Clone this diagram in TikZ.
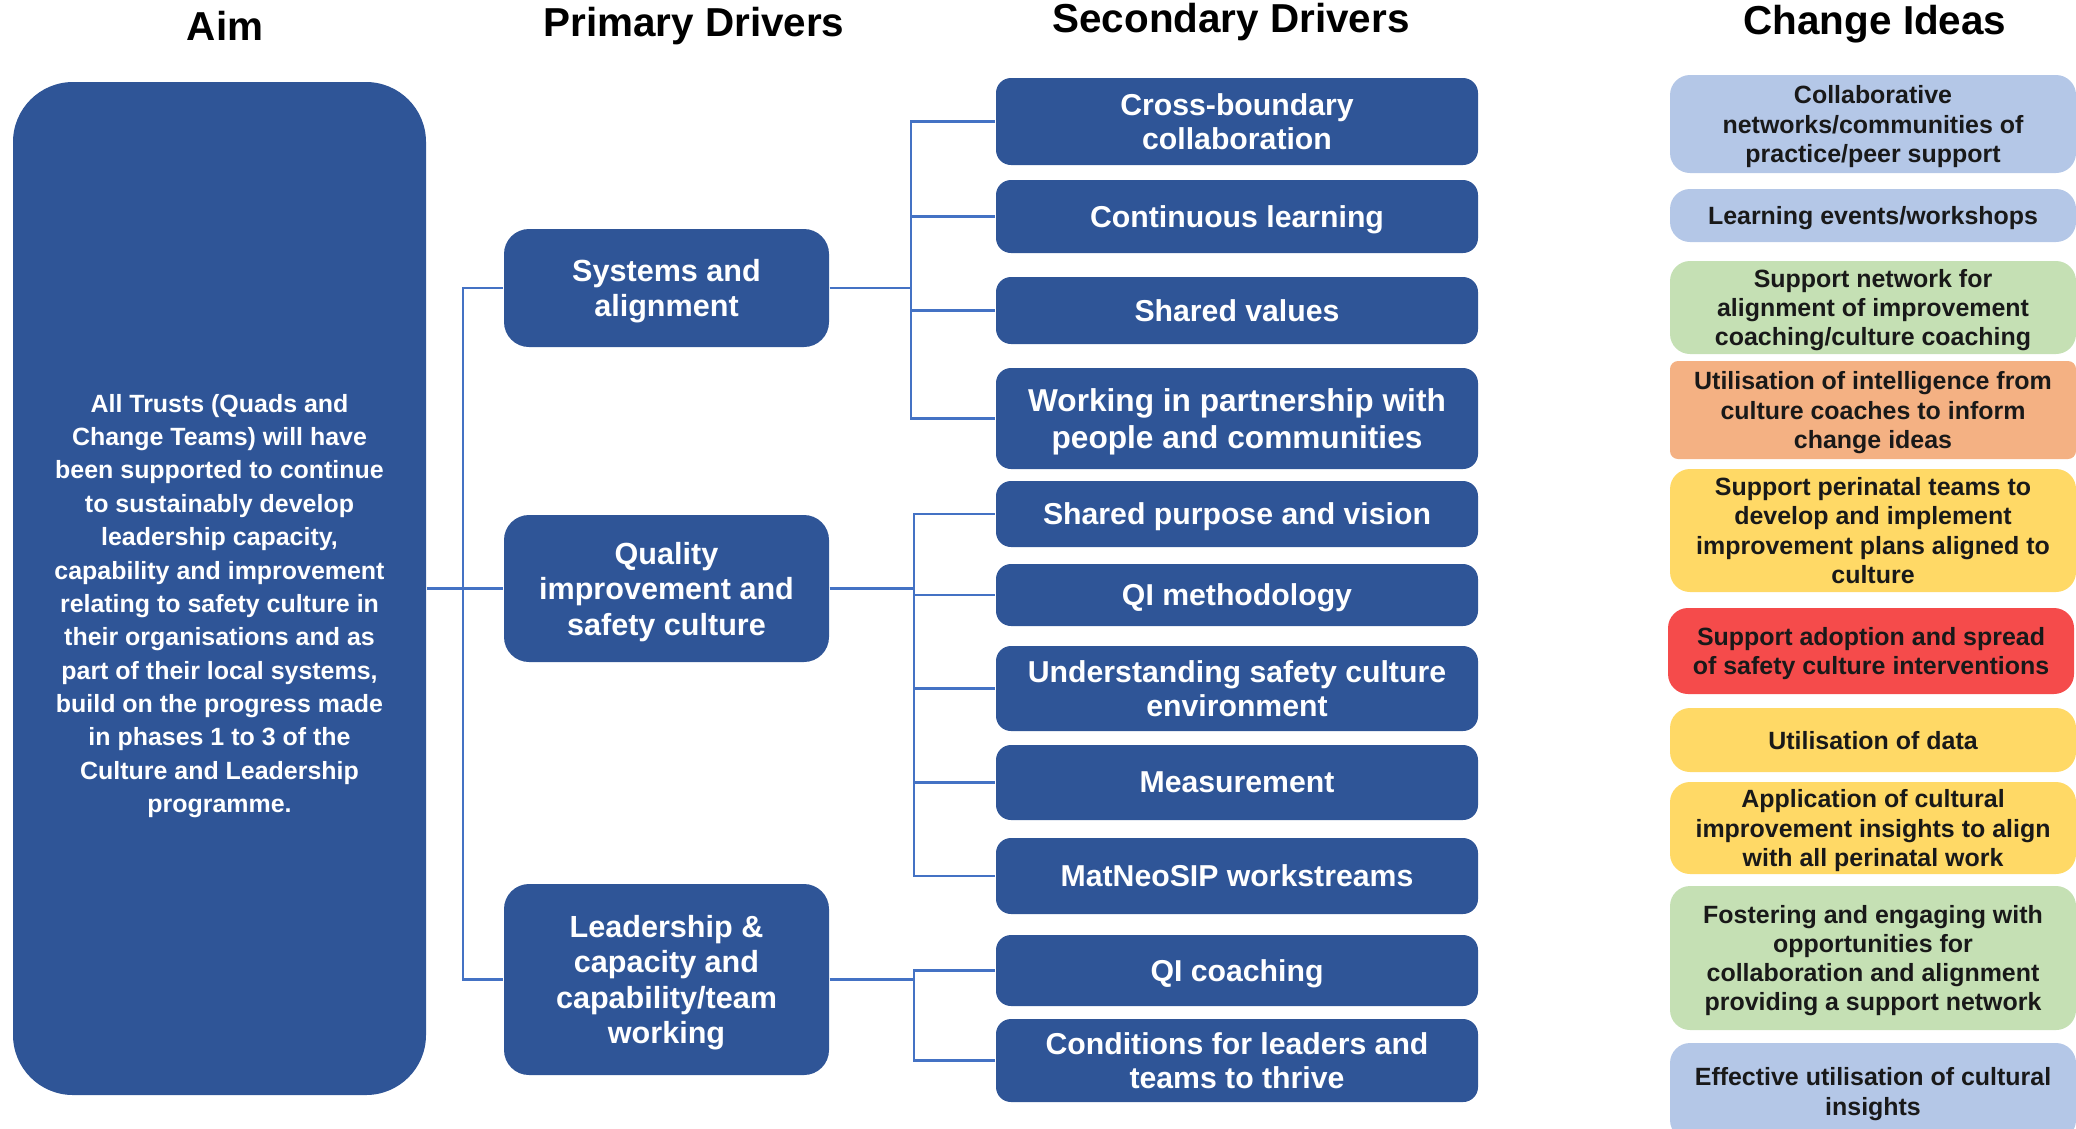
\documentclass[tikz,border=0pt]{standalone}
\usepackage{fontspec}
\setmainfont{Liberation Sans}
\usepackage{xcolor}
\usepackage{tikz}
\usetikzlibrary{positioning}

\definecolor{drvblue}{HTML}{2F5597}
\definecolor{linkblue}{HTML}{4472C4}
\definecolor{ideablue}{HTML}{B4C7E7}
\definecolor{ideagreen}{HTML}{C5E0B4}
\definecolor{ideaorange}{HTML}{F4B183}
\definecolor{ideayellow}{HTML}{FFD966}
\definecolor{ideared}{HTML}{F54B4B}

\begin{document}
\begin{tikzpicture}[
    every node/.style={font=\bfseries},
    head/.style={font=\fontsize{11.5}{13}\selectfont\bfseries},
    aimbox/.style={fill=drvblue, rounded corners=0.6cm, minimum width=4.13cm, minimum height=10.13cm},
    aimtext/.style={text=white, align=center, font=\fontsize{7.1}{9.5}\selectfont\bfseries},
    prim/.style={fill=drvblue, text=white, rounded corners=0.25cm, minimum width=3.25cm, text depth=0pt, align=center, font=\fontsize{8.7}{10.1}\selectfont\bfseries},
    sec/.style={fill=drvblue, text=white, rounded corners=0.15cm, minimum width=4.82cm, text depth=0pt, align=center, font=\fontsize{8.6}{9.8}\selectfont\bfseries},
    idea/.style={rounded corners=0.2cm, minimum width=4.06cm, inner sep=2pt, text depth=0pt, align=center, text=black!90, font=\fontsize{7.1}{8.3}\selectfont\bfseries},
    link/.style={draw=linkblue, line width=0.6pt},
]
\useasboundingbox (0,0) rectangle (20.76,-11.28);

% column titles
\node[head] (hAim) at (2.25,-0.26) {Aim};
\node[head] (hPrim) at (6.94,-0.26) {Primary Drivers};
\node[head] (hSec) at (12.31,-0.22) {Secondary Drivers};
\node[head] (hIdea) at (18.75,-0.24) {Change Ideas};

% aim
\node[aimbox] (aim) at (2.195,-5.885) {};
\node[aimtext] (aimtxt) at (2.195,-6.06) {All Trusts (Quads and\\Change Teams) will have\\been supported to continue\\to sustainably develop\\leadership capacity,\\capability and improvement\\relating to safety culture in\\their organisations and as\\part of their local systems,\\build on the progress made\\in phases 1 to 3 of the\\Culture and Leadership\\programme.};

% primary drivers
\node[prim, minimum height=1.18cm] (sys) at (6.665,-2.88) {Systems and\\alignment};
\node[prim, minimum height=1.47cm] (qual) at (6.665,-5.885) {Quality\\improvement and\\safety culture};
\node[prim, minimum height=1.91cm] (lead) at (6.665,-9.795) {Leadership \&\\capacity and\\capability/team\\working};

% secondary drivers
\node[sec, minimum height=0.87cm] (cross) at (12.37,-1.215) {Cross-boundary\\collaboration};
\node[sec, minimum height=0.73cm] (learn) at (12.37,-2.165) {Continuous learning};
\node[sec, minimum height=0.67cm] (values) at (12.37,-3.105) {Shared values};
\node[sec, minimum height=1.01cm, font=\fontsize{9}{10.5}\selectfont\bfseries] (partner) at (12.37,-4.185) {Working in partnership with\\people and communities};
\node[sec, minimum height=0.66cm] (purpose) at (12.37,-5.14) {Shared purpose and vision};
\node[sec, minimum height=0.62cm] (qimeth) at (12.37,-5.95) {QI methodology};
\node[sec, minimum height=0.85cm] (safety) at (12.37,-6.885) {Understanding safety culture\\environment};
\node[sec, minimum height=0.75cm] (measure) at (12.37,-7.825) {Measurement};
\node[sec, minimum height=0.76cm] (matneo) at (12.37,-8.76) {MatNeoSIP workstreams};
\node[sec, minimum height=0.71cm] (qicoach) at (12.37,-9.705) {QI coaching};
\node[sec, minimum height=0.83cm] (thrive) at (12.37,-10.605) {Conditions for leaders and\\teams to thrive};

% change ideas
\node[idea, fill=ideablue, minimum height=0.98cm] (collab) at (18.73,-1.24) {Collaborative\\networks/communities of\\practice/peer support};
\node[idea, fill=ideablue, minimum height=0.53cm] (events) at (18.73,-2.155) {Learning events/workshops};
\node[idea, fill=ideagreen, minimum height=0.93cm] (coachnet) at (18.73,-3.075) {Support network for\\alignment of improvement\\coaching/culture coaching};
\node[idea, fill=ideaorange, rounded corners=0.08cm, minimum height=0.98cm] (intel) at (18.73,-4.10) {Utilisation of intelligence from\\culture coaches to inform\\change ideas};
\node[idea, fill=ideayellow, minimum height=1.23cm] (plans) at (18.73,-5.305) {Support perinatal teams to\\develop and implement\\improvement plans aligned to\\culture};
\node[idea, fill=ideared, minimum height=0.86cm] (spread) at (18.71,-6.51) {Support adoption and spread\\of safety culture interventions};
\node[idea, fill=ideayellow, minimum height=0.64cm] (data) at (18.73,-7.40) {Utilisation of data};
\node[idea, fill=ideayellow, minimum height=0.92cm] (insight) at (18.73,-8.28) {Application of cultural\\improvement insights to align\\with all perinatal work};
\node[idea, fill=ideagreen, minimum height=1.44cm] (foster) at (18.73,-9.58) {Fostering and engaging with\\opportunities for\\collaboration and alignment\\providing a support network};
\node[idea, fill=ideablue, minimum height=0.97cm] (effect) at (18.73,-10.915) {Effective utilisation of cultural\\insights};

% branch points
\coordinate (aimbus) at (4.63,-5.885);
\coordinate (sysbus) at (9.11,-2.88);
\coordinate (qualbus) at (9.14,-5.885);
\coordinate (leadbus) at (9.14,-9.795);

% aim to primary drivers
\draw[link] (aim.east) -- (qual.west);
\draw[link] (aimbus) |- (sys.west);
\draw[link] (aimbus) |- (lead.west);

% primary to secondary drivers
\draw[link] (sys.east) -- (sysbus);
\draw[link] (sysbus) |- (cross.west);
\draw[link] (sysbus) |- (learn.west);
\draw[link] (sysbus) |- (values.west);
\draw[link] (sysbus) |- (partner.west);

\draw[link] (qual.east) -- (qualbus);
\draw[link] (qualbus) |- (purpose.west);
\draw[link] (qualbus) |- (qimeth.west);
\draw[link] (qualbus) |- (safety.west);
\draw[link] (qualbus) |- (measure.west);
\draw[link] (qualbus) |- (matneo.west);

\draw[link] (lead.east) -- (leadbus);
\draw[link] (leadbus) |- (qicoach.west);
\draw[link] (leadbus) |- (thrive.west);

\end{tikzpicture}
\end{document}
